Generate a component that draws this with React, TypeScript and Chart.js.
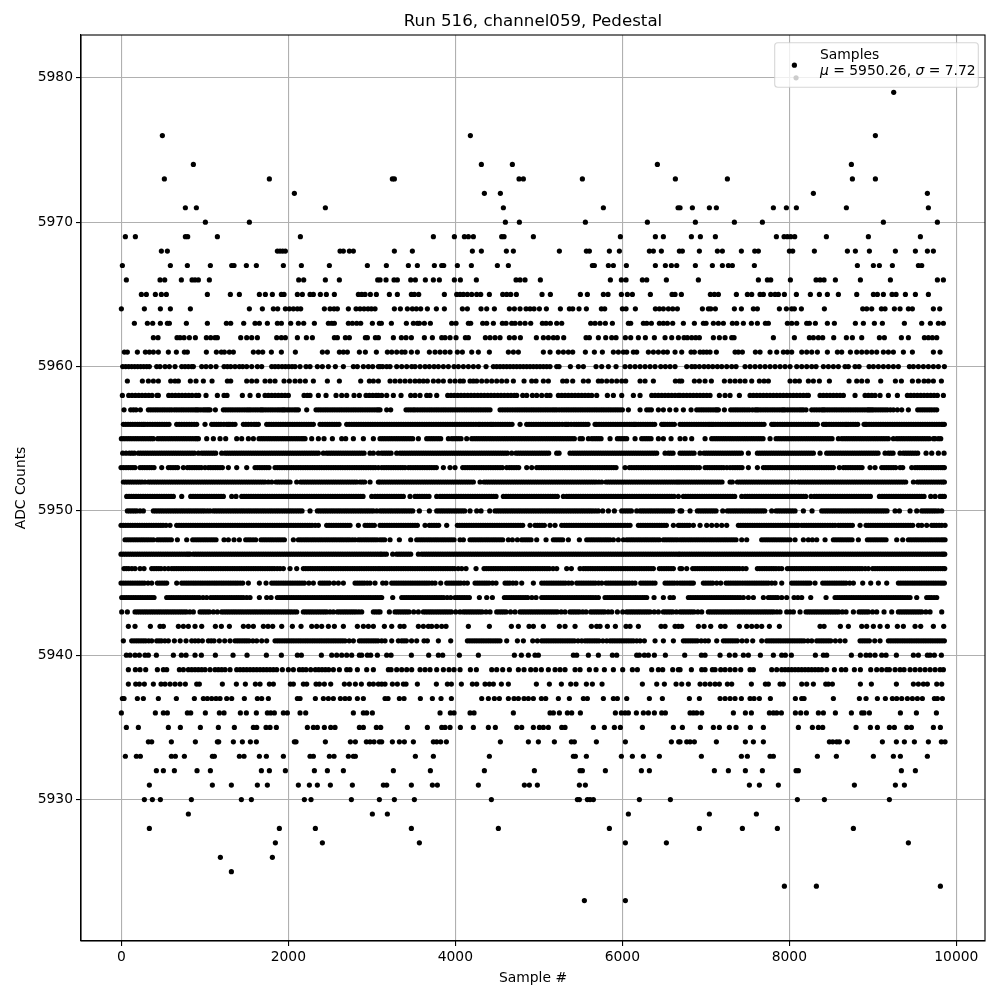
import React, { useEffect, useRef } from "react";
import { Chart, registerables } from "chart.js";

Chart.register(...registerables);

const TITLE = "Run 516, channel059, Pedestal";
const X_LABEL = "Sample #";
const Y_LABEL = "ADC Counts";
const LEGEND_NAME = "Samples";
const xTicks = [0, 2000, 4000, 6000, 8000, 10000];
const yTicks = [5930, 5940, 5950, 5960, 5970, 5980];

// Positions at 12 samples per pixel, one list per ADC level.
// The plot's real scale is 11.976 samples per pixel, with the zero 0.3px further right.
const READ_SCALE = 0.998;
const READ_SHIFT = -3.6;

const s5980 = [8100];
const s5979 = [9272];
const s5976 = [496, 4192, 9052];
const s5974 = [868, 4324, 4696, 6436, 8764];
const s5973 = [520, 1780, 3256, 3280, 4776, 4828, 5536, 6652, 7276, 8776, 9052];
const s5972 = [2080, 4360, 4552, 8308, 9676];
const s5971 = [772, 904, 2452, 4588, 5788, 6684, 6708, 6856, 7060, 7144, 7828, 7984, 8104, 8704, 9688];
const s5970 = [1012, 1540, 4612, 4780, 5572, 6316, 6892, 7360, 7696, 9148, 9796];
const s5969 = [52, 172, 772, 800, 1156, 2152, 3748, 4000, 4120, 4168, 4228, 4568, 4596, 4948, 5992, 6412, 6508, 6844, 6952, 7132, 7864, 7956, 7996, 8036, 8084, 8464, 8968, 9592];
const s5968 = [484, 556, 1876, 1908, 1940, 1972, 2628, 2668, 2740, 2788, 3280, 3496, 4216, 4324, 4624, 4708, 5260, 5584, 5620, 5860, 5980, 6340, 6388, 6484, 6700, 6736, 6940, 7156, 7216, 7444, 7604, 7648, 8020, 8060, 8320, 8716, 8812, 8980, 9292, 9532, 9676, 9748];
const s5967 = [16, 592, 796, 1072, 1328, 1356, 1504, 1624, 1948, 2164, 2500, 2956, 3184, 3448, 3556, 3760, 3848, 3872, 4036, 4204, 4516, 4648, 5656, 5680, 5848, 5908, 6064, 6412, 6532, 6604, 6668, 6892, 7096, 7216, 7288, 7336, 7600, 8836, 9028, 9100, 9256, 9568, 9608];
const s5966 = [64, 468, 524, 724, 852, 888, 928, 1060, 2132, 2192, 2452, 2620, 3080, 3108, 3180, 3276, 3316, 3476, 3532, 3652, 3748, 3820, 4000, 4072, 4264, 4740, 4788, 4848, 5032, 5872, 6004, 6060, 6256, 6308, 6544, 6928, 7648, 7756, 7796, 8032, 8340, 8388, 8436, 8572, 8872, 9232, 9796, 9868];
const s5965 = [244, 304, 412, 484, 544, 1036, 1312, 1420, 1660, 1732, 1816, 1924, 1956, 2116, 2176, 2268, 2308, 2392, 2464, 2560, 2848, 2888, 2928, 2992, 3064, 3220, 3316, 3484, 3520, 3572, 3880, 4028, 4068, 4108, 4156, 4208, 4268, 4316, 4420, 4580, 4628, 4676, 4744, 5052, 5152, 5512, 5596, 5788, 5844, 6004, 6076, 6136, 6352, 6612, 6648, 6724, 7072, 7120, 7168, 7384, 7516, 7568, 7668, 7708, 7796, 7848, 7888, 7960, 8104, 8272, 8380, 8476, 8608, 8828, 9028, 9076, 9148, 9252, 9300, 9412, 9532, 9688];
const s5964 = [4, 280, 472, 592, 832, 1540, 1696, 1828, 1880, 1972, 2020, 2068, 2116, 2156, 2440, 2508, 2556, 2596, 2728, 2820, 2868, 2916, 2964, 3004, 3048, 3280, 3352, 3436, 3496, 3544, 3596, 3676, 3784, 3880, 4096, 4156, 4320, 4388, 4480, 4660, 4720, 4788, 4860, 4908, 4956, 5020, 5104, 5272, 5380, 5420, 5496, 5584, 5764, 5804, 6016, 6060, 6172, 6412, 6460, 6508, 6568, 6620, 6676, 6976, 7048, 7076, 7132, 7360, 7444, 7588, 7636, 7900, 7984, 8048, 8080, 8164, 8440, 8900, 8948, 9008, 9124, 9168, 9280, 9348, 9448, 9496, 9748, 9824];
const s5963 = [160, 316, 380, 472, 556, 580, 784, 1036, 1264, 1316, 1472, 1608, 1660, 1756, 1876, 1924, 2036, 2128, 2192, 2320, 2488, 2528, 2560, 2728, 2776, 2828, 2876, 3016, 3100, 3124, 3244, 3424, 3508, 3556, 3580, 3640, 3712, 3968, 4020, 4168, 4196, 4340, 4388, 4468, 4576, 4620, 4688, 4728, 4788, 4848, 4916, 5056, 5100, 5152, 5228, 5288, 5636, 5688, 5748, 5812, 5896, 6088, 6116, 6268, 6308, 6364, 6460, 6508, 6556, 6620, 6748, 6880, 6988, 7020, 7108, 7168, 7228, 7336, 7388, 7468, 7564, 7636, 7732, 7768, 7996, 8048, 8108, 8228, 8260, 8332, 8476, 8560, 8812, 8908, 9040, 9136, 9400, 9608, 9712, 9808, 9868];
const s5962 = [388, 444, 672, 708, 756, 820, 892, 1024, 1076, 1128, 1156, 1436, 1508, 1568, 1636, 1868, 1924, 1972, 2116, 2224, 2296, 2560, 2596, 2692, 2740, 2932, 2956, 3052, 3088, 3268, 3364, 3420, 3484, 3640, 3736, 3848, 3888, 3948, 4020, 4132, 4168, 4372, 4428, 4488, 4548, 4660, 4720, 4792, 4984, 5068, 5128, 5188, 5236, 5312, 5580, 5620, 5728, 5816, 5888, 5940, 6052, 6116, 6208, 6292, 6400, 6528, 6608, 6688, 6756, 6796, 6848, 6896, 6940, 7108, 7180, 7248, 7328, 7356, 7828, 8080, 8260, 8308, 8368, 8420, 8552, 8704, 8776, 8888, 9100, 9160, 9364, 9448, 9640, 9688, 9736, 9788];
const s5961 = [40, 76, 196, 292, 340, 388, 448, 568, 664, 760, 796, 1024, 1144, 1204, 1240, 1300, 1348, 1588, 1648, 1700, 1804, 1924, 2092, 2416, 2476, 2620, 2668, 2716, 2860, 2932, 3064, 3196, 3248, 3308, 3368, 3408, 3484, 3556, 3700, 3768, 3828, 3888, 3948, 4036, 4096, 4208, 4288, 4420, 4648, 4708, 4768, 5068, 5148, 5248, 5308, 5368, 5420, 5572, 5680, 5776, 5908, 5968, 6028, 6068, 6148, 6188, 6328, 6388, 6448, 6508, 6556, 6648, 6728, 6840, 6880, 6948, 6988, 7028, 7068, 7144, 7368, 7408, 7456, 7612, 7668, 7788, 7868, 7948, 7996, 8048, 8168, 8228, 8288, 8356, 8476, 8596, 8648, 8752, 8828, 8888, 8948, 9008, 9068, 9148, 9208, 9268, 9388, 9496, 9748, 9828];
const s5960 = [20, 56, 92, 128, 164, 200, 236, 272, 308, 340, 428, 468, 528, 580, 648, 728, 768, 808, 848, 868, 968, 1020, 1076, 1140, 1236, 1276, 1316, 1368, 1420, 1460, 1508, 1568, 1636, 1688, 1808, 1848, 1888, 1932, 1972, 2012, 2052, 2088, 2148, 2220, 2268, 2356, 2416, 2488, 2572, 2668, 2788, 2836, 2908, 2968, 3020, 3088, 3108, 3140, 3188, 3228, 3308, 3368, 3428, 3488, 3528, 3588, 3648, 3700, 3756, 3808, 3868, 3928, 3996, 4048, 4108, 4168, 4228, 4288, 4380, 4468, 4508, 4548, 4588, 4628, 4668, 4708, 4748, 4788, 4828, 4868, 4908, 4948, 4988, 5028, 5068, 5108, 5148, 5228, 5256, 5392, 5488, 5548, 5700, 5768, 5848, 5940, 6048, 6108, 6168, 6228, 6288, 6348, 6408, 6476, 6532, 6588, 6648, 6788, 6848, 6888, 6940, 6996, 7048, 7100, 7156, 7208, 7268, 7328, 7380, 7488, 7548, 7608, 7668, 7728, 7788, 7848, 7908, 7968, 8028, 8108, 8168, 8228, 8288, 8340, 8428, 8488, 8548, 8608, 8688, 8728, 8808, 8856, 8976, 9028, 9088, 9148, 9208, 9268, 9328, 9460, 9508, 9568, 9628, 9688, 9748, 9808, 9880];
const s5959 = [76, 256, 328, 388, 448, 596, 648, 688, 832, 900, 988, 1092, 1276, 1316, 1508, 1568, 1628, 1728, 1788, 1848, 1956, 2020, 2088, 2148, 2212, 2308, 2476, 2620, 2876, 2980, 3028, 3088, 3228, 3288, 3348, 3408, 3468, 3528, 3580, 3628, 3676, 3748, 3808, 3868, 3948, 4008, 4068, 4108, 4188, 4228, 4268, 4328, 4388, 4448, 4508, 4568, 4628, 4708, 4836, 4928, 4980, 5068, 5128, 5300, 5348, 5420, 5548, 5608, 5728, 5768, 5828, 5888, 5948, 6008, 6056, 6228, 6288, 6388, 6652, 6700, 6728, 6880, 6940, 7008, 7084, 7240, 7308, 7368, 7428, 7488, 7568, 7660, 7716, 7768, 8028, 8088, 8140, 8248, 8308, 8380, 8500, 8736, 8828, 8888, 8956, 9116, 9292, 9364, 9496, 9568, 9636, 9688, 9748, 9844];
const s5958 = [16, 92, 132, 172, 212, 252, 292, 332, 372, 432, 448, 572, 612, 652, 692, 732, 772, 812, 852, 900, 932, 1020, 1156, 1236, 1272, 1456, 1548, 1648, 1728, 1768, 1808, 1848, 1888, 1928, 1968, 2008, 2196, 2236, 2268, 2368, 2460, 2580, 2648, 2708, 2796, 2860, 2940, 2980, 3020, 3060, 3088, 3128, 3188, 3268, 3360, 3476, 3528, 3588, 3668, 3708, 3788, 3920, 3960, 4000, 4040, 4080, 4120, 4160, 4200, 4240, 4280, 4320, 4360, 4400, 4440, 4480, 4520, 4560, 4600, 4640, 4680, 4720, 4748, 4820, 4868, 4936, 4988, 5048, 5108, 5148, 5248, 5288, 5328, 5368, 5408, 5448, 5488, 5528, 5568, 5608, 5648, 5708, 5836, 5908, 6008, 6148, 6228, 6368, 6408, 6448, 6488, 6528, 6568, 6608, 6648, 6688, 6708, 6748, 6788, 6828, 6868, 6908, 6948, 6988, 7028, 7068, 7180, 7248, 7308, 7420, 7548, 7588, 7628, 7668, 7708, 7748, 7788, 7828, 7868, 7908, 7948, 7988, 8028, 8068, 8108, 8148, 8188, 8228, 8248, 8388, 8428, 8468, 8508, 8548, 8588, 8628, 8668, 8808, 8928, 8968, 9008, 9048, 9108, 9208, 9316, 9436, 9476, 9516, 9556, 9596, 9636, 9676, 9716, 9756, 9796, 9868];
const s5957 = [36, 116, 148, 180, 232, 328, 356, 384, 412, 440, 468, 496, 524, 552, 580, 608, 640, 668, 696, 724, 752, 780, 808, 836, 862, 888, 908, 928, 956, 984, 1006, 1028, 1048, 1068, 1132, 1228, 1256, 1284, 1312, 1340, 1368, 1396, 1424, 1452, 1480, 1508, 1532, 1556, 1584, 1612, 1640, 1668, 1688, 1708, 1736, 1764, 1792, 1820, 1848, 1876, 1902, 1928, 1948, 1968, 1996, 2024, 2052, 2080, 2104, 2128, 2228, 2340, 2368, 2396, 2424, 2452, 2480, 2508, 2536, 2564, 2592, 2620, 2648, 2676, 2704, 2732, 2760, 2788, 2816, 2844, 2872, 2900, 2928, 2956, 2984, 3012, 3040, 3068, 3088, 3108, 3188, 3236, 3420, 3448, 3476, 3504, 3528, 3558, 3588, 3616, 3644, 3672, 3700, 3728, 3756, 3784, 3812, 3840, 3868, 3896, 3924, 3952, 3980, 4008, 4036, 4064, 4092, 4120, 4148, 4176, 4204, 4232, 4260, 4288, 4316, 4344, 4372, 4400, 4428, 4548, 4578, 4608, 4638, 4668, 4698, 4728, 4756, 4784, 4812, 4840, 4868, 4896, 4924, 4952, 4980, 5008, 5036, 5064, 5092, 5120, 5148, 5176, 5202, 5228, 5258, 5288, 5316, 5344, 5372, 5400, 5428, 5456, 5484, 5512, 5540, 5568, 5596, 5624, 5652, 5680, 5708, 5736, 5764, 5792, 5820, 5848, 5876, 5904, 5932, 5960, 5988, 6016, 6088, 6228, 6308, 6336, 6364, 6448, 6508, 6584, 6660, 6748, 6840, 6908, 6936, 6964, 6992, 7020, 7048, 7076, 7104, 7132, 7150, 7168, 7240, 7316, 7344, 7372, 7400, 7428, 7456, 7484, 7512, 7540, 7576, 7608, 7628, 7648, 7676, 7704, 7732, 7760, 7788, 7816, 7844, 7872, 7900, 7928, 7948, 7968, 7998, 8028, 8056, 8084, 8112, 8140, 8164, 8188, 8220, 8288, 8318, 8348, 8378, 8408, 8428, 8448, 8476, 8504, 8532, 8560, 8588, 8616, 8644, 8672, 8700, 8728, 8756, 8784, 8812, 8840, 8868, 8896, 8924, 8952, 8970, 8988, 9008, 9028, 9056, 9084, 9112, 9140, 9168, 9196, 9232, 9268, 9316, 9368, 9448, 9560, 9588, 9616, 9644, 9672, 9700, 9728, 9758, 9788];
const s5956 = [28, 56, 84, 112, 140, 168, 196, 222, 248, 268, 288, 318, 348, 378, 408, 436, 464, 492, 520, 548, 576, 668, 698, 728, 758, 788, 818, 848, 878, 908, 1008, 1088, 1116, 1144, 1172, 1200, 1234, 1268, 1288, 1308, 1338, 1368, 1468, 1498, 1528, 1562, 1596, 1622, 1648, 1748, 1776, 1804, 1832, 1860, 1888, 1916, 1944, 1972, 2000, 2028, 2056, 2084, 2112, 2140, 2168, 2196, 2224, 2252, 2280, 2308, 2388, 2418, 2448, 2476, 2504, 2532, 2560, 2588, 2616, 2708, 2738, 2768, 2796, 2824, 2852, 2880, 2908, 2936, 2964, 2992, 3020, 3048, 3078, 3108, 3136, 3164, 3192, 3220, 3248, 3276, 3304, 3332, 3360, 3388, 3416, 3444, 3472, 3500, 3528, 3556, 3584, 3612, 3640, 3668, 3696, 3724, 3752, 3780, 3808, 3836, 3864, 3892, 3920, 3948, 3976, 4004, 4032, 4060, 4088, 4116, 4144, 4172, 4200, 4228, 4258, 4288, 4308, 4338, 4368, 4398, 4428, 4448, 4468, 4496, 4524, 4552, 4580, 4608, 4636, 4664, 4692, 4788, 4868, 4896, 4924, 4952, 4980, 5008, 5036, 5064, 5092, 5120, 5148, 5176, 5204, 5232, 5260, 5294, 5328, 5348, 5368, 5402, 5436, 5464, 5492, 5520, 5548, 5576, 5604, 5688, 5708, 5736, 5764, 5792, 5820, 5848, 5876, 5904, 5932, 5960, 5988, 6016, 6044, 6072, 6100, 6124, 6148, 6164, 6180, 6208, 6236, 6264, 6292, 6320, 6348, 6376, 6404, 6488, 6508, 6528, 6556, 6584, 6612, 6640, 6708, 6736, 6764, 6792, 6820, 6848, 6876, 6904, 6932, 6960, 6988, 7016, 7044, 7066, 7088, 7108, 7136, 7164, 7192, 7220, 7248, 7276, 7302, 7328, 7354, 7380, 7408, 7436, 7464, 7492, 7520, 7548, 7576, 7604, 7632, 7660, 7688, 7716, 7808, 7828, 7848, 7878, 7908, 7936, 7964, 7992, 8020, 8048, 8076, 8104, 8132, 8160, 8188, 8216, 8244, 8272, 8300, 8328, 8356, 8428, 8448, 8468, 8496, 8524, 8552, 8580, 8608, 8636, 8662, 8688, 8708, 8728, 8756, 8784, 8812, 8840, 8916, 8932, 8948, 8976, 9004, 9032, 9060, 9088, 9116, 9144, 9172, 9200, 9228, 9256, 9284, 9312, 9340, 9368, 9396, 9424, 9452, 9480, 9508, 9536, 9564, 9592, 9620, 9648, 9676, 9704, 9732, 9760, 9788, 9816, 9844, 9862, 9880];
const s5955 = [4, 32, 60, 88, 116, 144, 172, 200, 228, 256, 284, 312, 340, 364, 388, 440, 468, 496, 524, 552, 580, 608, 636, 664, 692, 720, 748, 776, 804, 832, 860, 888, 908, 928, 1028, 1108, 1188, 1256, 1388, 1448, 1528, 1588, 1656, 1684, 1712, 1740, 1768, 1796, 1824, 1852, 1880, 1908, 1936, 1964, 1992, 2020, 2048, 2076, 2104, 2132, 2160, 2184, 2208, 2288, 2368, 2436, 2536, 2648, 2696, 2788, 2908, 3028, 3108, 3136, 3164, 3192, 3220, 3248, 3276, 3304, 3332, 3360, 3388, 3416, 3444, 3472, 3500, 3568, 3668, 3696, 3724, 3752, 3780, 3808, 3836, 3928, 3968, 3996, 4024, 4052, 4080, 4148, 4208, 4236, 4264, 4292, 4320, 4348, 4376, 4404, 4432, 4460, 4488, 4516, 4544, 4572, 4600, 4628, 4656, 4684, 4712, 4740, 4768, 4796, 4824, 4852, 4880, 4908, 4936, 4964, 4992, 5020, 5048, 5076, 5104, 5132, 5160, 5188, 5216, 5244, 5272, 5300, 5328, 5356, 5384, 5412, 5440, 5508, 5536, 5608, 5648, 5676, 5704, 5732, 5760, 5868, 5956, 5984, 6012, 6040, 6068, 6168, 6248, 6276, 6304, 6332, 6360, 6448, 6508, 6600, 6708, 6768, 6848, 7008, 7088, 7116, 7144, 7172, 7200, 7228, 7256, 7284, 7312, 7340, 7368, 7396, 7424, 7452, 7480, 7508, 7536, 7564, 7592, 7620, 7648, 7676, 7704, 7788, 7860, 7888, 7916, 7944, 7972, 8000, 8028, 8056, 8084, 8112, 8140, 8168, 8196, 8224, 8252, 8280, 8308, 8336, 8364, 8392, 8420, 8448, 8476, 8504, 8532, 8608, 8648, 8676, 8704, 8732, 8760, 8788, 8816, 8844, 8872, 8900, 8928, 8956, 8984, 9012, 9040, 9068, 9096, 9124, 9152, 9180, 9208, 9268, 9308, 9336, 9364, 9392, 9420, 9448, 9476, 9504, 9532, 9560, 9588, 9616, 9644, 9672, 9700, 9748, 9768, 9808, 9836];
const s5954 = [20, 60, 100, 130, 160, 208, 236, 264, 292, 320, 348, 376, 404, 432, 460, 488, 516, 544, 572, 600, 628, 656, 684, 712, 740, 768, 796, 824, 852, 880, 928, 968, 996, 1024, 1052, 1080, 1108, 1136, 1208, 1248, 1276, 1304, 1332, 1360, 1388, 1416, 1444, 1472, 1500, 1528, 1556, 1584, 1612, 1640, 1668, 1696, 1724, 1752, 1780, 1808, 1836, 1864, 1892, 1920, 1948, 1976, 2004, 2032, 2060, 2088, 2116, 2144, 2172, 2200, 2228, 2256, 2284, 2312, 2340, 2368, 2428, 2468, 2496, 2524, 2552, 2580, 2608, 2636, 2664, 2692, 2720, 2748, 2776, 2804, 2832, 2860, 2888, 2916, 2988, 3028, 3088, 3128, 3156, 3184, 3212, 3240, 3308, 3348, 3376, 3404, 3432, 3460, 3488, 3516, 3544, 3572, 3600, 3628, 3656, 3684, 3712, 3740, 3768, 3796, 3824, 3852, 3880, 3908, 3936, 3964, 3992, 4020, 4048, 4076, 4104, 4132, 4160, 4188, 4216, 4244, 4272, 4300, 4328, 4356, 4384, 4412, 4440, 4468, 4496, 4524, 4552, 4580, 4608, 4636, 4688, 4740, 4768, 4796, 4824, 4852, 4880, 4908, 4936, 4964, 4992, 5020, 5048, 5076, 5104, 5132, 5228, 5256, 5388, 5420, 5448, 5476, 5504, 5532, 5560, 5588, 5616, 5644, 5672, 5700, 5728, 5756, 5784, 5812, 5840, 5868, 5896, 5924, 5952, 5980, 6008, 6036, 6064, 6092, 6120, 6148, 6176, 6204, 6232, 6260, 6288, 6316, 6344, 6372, 6400, 6428, 6528, 6568, 6596, 6624, 6708, 6736, 6764, 6792, 6820, 6848, 6876, 6948, 6996, 7024, 7052, 7080, 7108, 7136, 7164, 7192, 7220, 7248, 7276, 7304, 7332, 7360, 7388, 7416, 7444, 7528, 7636, 7664, 7692, 7720, 7748, 7776, 7804, 7832, 7860, 7888, 7916, 7944, 7972, 8000, 8028, 8056, 8084, 8112, 8140, 8168, 8196, 8224, 8252, 8280, 8308, 8388, 8468, 8496, 8524, 8552, 8580, 8608, 8636, 8664, 8692, 8720, 8748, 8776, 8804, 8832, 8860, 8888, 8916, 8944, 8972, 9000, 9028, 9056, 9084, 9168, 9208, 9236, 9264, 9348, 9388, 9416, 9444, 9472, 9500, 9530, 9560, 9660, 9728, 9808, 9876];
const s5953 = [0, 30, 60, 88, 116, 142, 168, 228, 256, 284, 312, 340, 368, 396, 488, 568, 596, 624, 652, 680, 748, 796, 824, 852, 880, 908, 936, 964, 1008, 1048, 1076, 1104, 1132, 1160, 1188, 1216, 1288, 1388, 1508, 1608, 1636, 1664, 1692, 1720, 1748, 1776, 1848, 1876, 1904, 1932, 1960, 1988, 2016, 2044, 2072, 2100, 2128, 2156, 2184, 2212, 2240, 2268, 2296, 2324, 2352, 2380, 2408, 2436, 2464, 2492, 2520, 2548, 2576, 2604, 2632, 2660, 2688, 2716, 2744, 2772, 2800, 2828, 2856, 2884, 2912, 2940, 2968, 2996, 3024, 3052, 3088, 3128, 3156, 3184, 3212, 3240, 3268, 3296, 3324, 3352, 3380, 3408, 3448, 3476, 3504, 3532, 3560, 3588, 3616, 3644, 3672, 3700, 3728, 3756, 3784, 3868, 3948, 4008, 4100, 4128, 4156, 4184, 4212, 4240, 4268, 4296, 4324, 4352, 4380, 4408, 4436, 4464, 4492, 4520, 4548, 4576, 4628, 4660, 4688, 4716, 4744, 4772, 4868, 4928, 4988, 5016, 5044, 5072, 5100, 5128, 5156, 5184, 5212, 5240, 5268, 5296, 5324, 5352, 5380, 5408, 5436, 5464, 5492, 5520, 5548, 5576, 5604, 5632, 5660, 5688, 5716, 5744, 5772, 5800, 5828, 5856, 5884, 5912, 5940, 6048, 6100, 6128, 6156, 6184, 6212, 6240, 6268, 6296, 6324, 6352, 6380, 6408, 6436, 6464, 6492, 6520, 6548, 6576, 6604, 6632, 6660, 6684, 6708, 6736, 6764, 6792, 6820, 6848, 6876, 6908, 6940, 7008, 7036, 7064, 7092, 7120, 7148, 7176, 7204, 7232, 7270, 7308, 7340, 7368, 7396, 7424, 7452, 7528, 7636, 7708, 7736, 7764, 7792, 7820, 7848, 7876, 7904, 7932, 7960, 7988, 8016, 8044, 8072, 8100, 8128, 8156, 8184, 8212, 8240, 8268, 8296, 8324, 8352, 8380, 8408, 8436, 8464, 8492, 8520, 8548, 8620, 8668, 8696, 8724, 8752, 8780, 8808, 8836, 8864, 8892, 8988, 9048, 9128, 9156, 9184, 9212, 9240, 9268, 9296, 9348, 9380, 9488, 9528, 9556, 9584, 9612, 9640, 9668, 9696, 9724, 9752, 9780, 9808, 9836, 9860, 9880];
const s5952 = [28, 56, 84, 112, 140, 168, 196, 224, 252, 288, 328, 356, 384, 412, 440, 468, 496, 524, 552, 580, 608, 636, 664, 692, 720, 748, 776, 804, 832, 860, 888, 916, 944, 972, 1000, 1028, 1056, 1084, 1112, 1140, 1168, 1196, 1224, 1252, 1280, 1308, 1336, 1364, 1392, 1420, 1448, 1476, 1504, 1532, 1560, 1588, 1616, 1644, 1672, 1700, 1728, 1768, 1808, 1860, 1888, 1916, 1944, 1972, 2000, 2028, 2108, 2156, 2184, 2212, 2240, 2268, 2296, 2324, 2352, 2380, 2408, 2436, 2464, 2492, 2520, 2548, 2576, 2604, 2632, 2660, 2688, 2716, 2744, 2772, 2800, 2828, 2868, 2896, 2924, 2988, 3088, 3108, 3136, 3164, 3192, 3220, 3248, 3276, 3304, 3332, 3360, 3388, 3416, 3444, 3472, 3500, 3528, 3556, 3584, 3612, 3640, 3668, 3696, 3724, 3752, 3780, 3808, 3836, 3864, 3892, 3920, 3948, 3976, 4004, 4032, 4060, 4088, 4116, 4144, 4172, 4200, 4228, 4308, 4356, 4384, 4412, 4440, 4468, 4496, 4524, 4552, 4580, 4608, 4636, 4664, 4692, 4720, 4748, 4776, 4804, 4832, 4860, 4888, 4916, 4944, 4972, 5000, 5028, 5056, 5084, 5112, 5140, 5168, 5196, 5224, 5252, 5280, 5308, 5336, 5364, 5392, 5420, 5448, 5476, 5504, 5532, 5560, 5588, 5616, 5644, 5672, 5700, 5734, 5768, 5820, 5848, 5876, 5904, 5932, 5960, 5988, 6016, 6044, 6072, 6100, 6128, 6156, 6184, 6212, 6240, 6268, 6296, 6324, 6352, 6380, 6408, 6436, 6464, 6492, 6520, 6548, 6576, 6604, 6632, 6660, 6684, 6708, 6736, 6764, 6792, 6820, 6848, 6876, 6904, 6932, 6960, 6988, 7016, 7044, 7072, 7100, 7128, 7156, 7184, 7212, 7308, 7336, 7396, 7424, 7452, 7480, 7508, 7536, 7564, 7592, 7620, 7648, 7676, 7704, 7732, 7760, 7788, 7816, 7844, 7872, 7900, 7928, 7956, 7984, 8012, 8050, 8088, 8128, 8156, 8184, 8212, 8240, 8268, 8296, 8324, 8352, 8380, 8408, 8436, 8464, 8492, 8520, 8548, 8576, 8604, 8632, 8660, 8688, 8716, 8744, 8772, 8800, 8828, 8856, 8884, 8912, 8940, 8968, 8996, 9024, 9052, 9080, 9108, 9136, 9164, 9192, 9220, 9248, 9276, 9304, 9332, 9360, 9388, 9416, 9508, 9556, 9584, 9612, 9640, 9668, 9696, 9724, 9752, 9780, 9808, 9836, 9860, 9880];
const s5951 = [68, 96, 124, 152, 180, 208, 236, 264, 292, 320, 348, 376, 404, 432, 460, 488, 516, 544, 572, 600, 628, 728, 836, 864, 892, 920, 948, 976, 1004, 1032, 1060, 1088, 1116, 1144, 1172, 1200, 1228, 1328, 1380, 1448, 1476, 1504, 1532, 1560, 1588, 1616, 1644, 1672, 1700, 1728, 1756, 1784, 1812, 1840, 1868, 1896, 1924, 1952, 1980, 2008, 2036, 2064, 2092, 2120, 2148, 2176, 2204, 2232, 2260, 2288, 2316, 2344, 2372, 2400, 2428, 2456, 2484, 2512, 2540, 2568, 2596, 2624, 2652, 2680, 2708, 2736, 2764, 2792, 2820, 2848, 2876, 2904, 3008, 3048, 3078, 3108, 3136, 3164, 3192, 3220, 3248, 3276, 3304, 3332, 3360, 3388, 3468, 3528, 3556, 3584, 3612, 3640, 3668, 3696, 3788, 3828, 3856, 3884, 3912, 3940, 3968, 3996, 4024, 4052, 4080, 4108, 4136, 4164, 4192, 4220, 4248, 4276, 4304, 4332, 4360, 4388, 4416, 4444, 4472, 4500, 4588, 4620, 4648, 4676, 4704, 4732, 4760, 4788, 4816, 4844, 4872, 4900, 4928, 4956, 4984, 5012, 5040, 5068, 5096, 5124, 5152, 5180, 5208, 5236, 5308, 5348, 5376, 5404, 5432, 5460, 5488, 5516, 5544, 5572, 5600, 5628, 5656, 5684, 5712, 5740, 5768, 5796, 5824, 5852, 5880, 5908, 5936, 5964, 5992, 6020, 6048, 6076, 6104, 6132, 6160, 6188, 6216, 6244, 6272, 6300, 6328, 6356, 6384, 6412, 6440, 6468, 6496, 6524, 6552, 6580, 6608, 6636, 6688, 6748, 6776, 6804, 6832, 6860, 6888, 6916, 6944, 6972, 7000, 7028, 7056, 7084, 7112, 7140, 7168, 7196, 7224, 7252, 7280, 7308, 7336, 7364, 7448, 7488, 7516, 7544, 7572, 7600, 7628, 7656, 7684, 7712, 7740, 7768, 7796, 7824, 7852, 7880, 7908, 7936, 7964, 7992, 8020, 8048, 8076, 8104, 8132, 8160, 8188, 8216, 8280, 8320, 8348, 8376, 8404, 8432, 8460, 8488, 8516, 8544, 8572, 8600, 8628, 8656, 8684, 8712, 8740, 8768, 8796, 8824, 8852, 8880, 8908, 8936, 8964, 8992, 9100, 9132, 9160, 9188, 9216, 9244, 9272, 9300, 9328, 9356, 9384, 9412, 9440, 9468, 9496, 9524, 9552, 9580, 9608, 9636, 9716, 9768, 9828, 9854, 9880];
const s5950 = [76, 104, 132, 160, 188, 228, 268, 388, 416, 444, 472, 500, 528, 556, 584, 612, 640, 668, 696, 724, 752, 780, 808, 836, 864, 892, 920, 948, 976, 1004, 1036, 1068, 1108, 1136, 1164, 1192, 1220, 1248, 1276, 1304, 1332, 1360, 1388, 1416, 1444, 1472, 1500, 1528, 1556, 1584, 1612, 1640, 1668, 1696, 1724, 1752, 1780, 1808, 1836, 1864, 1892, 1920, 1948, 1976, 2004, 2032, 2060, 2088, 2116, 2144, 2172, 2268, 2356, 2384, 2412, 2440, 2468, 2496, 2524, 2552, 2580, 2608, 2636, 2664, 2692, 2720, 2748, 2776, 2804, 2832, 2860, 2888, 2916, 2944, 2972, 3000, 3028, 3068, 3108, 3136, 3164, 3192, 3220, 3248, 3276, 3304, 3332, 3360, 3388, 3416, 3444, 3472, 3500, 3580, 3700, 3788, 3816, 3844, 3872, 3900, 3928, 3956, 3984, 4012, 4040, 4068, 4096, 4124, 4188, 4268, 4320, 4424, 4488, 4516, 4544, 4572, 4600, 4628, 4656, 4684, 4712, 4740, 4768, 4796, 4824, 4852, 4880, 4908, 4936, 4964, 4992, 5020, 5048, 5076, 5104, 5132, 5160, 5188, 5216, 5244, 5272, 5300, 5328, 5356, 5384, 5412, 5440, 5468, 5496, 5524, 5552, 5580, 5608, 5636, 5664, 5696, 5728, 5780, 5848, 5920, 6008, 6038, 6068, 6096, 6124, 6188, 6228, 6256, 6284, 6312, 6340, 6368, 6396, 6424, 6452, 6480, 6508, 6536, 6564, 6592, 6620, 6708, 6728, 6828, 6916, 6944, 6972, 7000, 7028, 7056, 7084, 7112, 7140, 7220, 7276, 7304, 7332, 7360, 7388, 7416, 7444, 7472, 7500, 7528, 7556, 7584, 7612, 7640, 7668, 7696, 7724, 7808, 7860, 7888, 7916, 7944, 7972, 8000, 8028, 8058, 8088, 8188, 8292, 8408, 8436, 8464, 8492, 8520, 8548, 8576, 8604, 8632, 8660, 8688, 8716, 8744, 8772, 8800, 8828, 8856, 8884, 8912, 8940, 8968, 8996, 9024, 9052, 9080, 9108, 9136, 9164, 9192, 9288, 9340, 9468, 9548, 9608, 9636, 9664, 9692, 9720, 9748, 9776, 9808, 9848];
const s5949 = [0, 28, 56, 84, 112, 140, 168, 196, 224, 252, 280, 308, 336, 364, 392, 420, 448, 476, 504, 540, 588, 668, 696, 724, 752, 780, 808, 836, 864, 892, 920, 948, 976, 1004, 1032, 1060, 1088, 1116, 1144, 1172, 1200, 1228, 1256, 1284, 1312, 1340, 1368, 1396, 1424, 1452, 1480, 1508, 1536, 1564, 1592, 1620, 1648, 1676, 1704, 1732, 1760, 1788, 1816, 1844, 1872, 1900, 1928, 1956, 1984, 2012, 2040, 2068, 2096, 2124, 2152, 2180, 2208, 2236, 2264, 2292, 2330, 2368, 2468, 2496, 2524, 2552, 2580, 2608, 2636, 2664, 2692, 2720, 2748, 2848, 2928, 2956, 2984, 3012, 3040, 3108, 3136, 3164, 3192, 3220, 3248, 3276, 3304, 3332, 3360, 3388, 3416, 3444, 3472, 3500, 3528, 3556, 3648, 3700, 3728, 3756, 3784, 3812, 3908, 4036, 4064, 4092, 4120, 4148, 4176, 4204, 4232, 4260, 4288, 4316, 4344, 4372, 4400, 4428, 4456, 4484, 4512, 4540, 4568, 4596, 4624, 4652, 4680, 4708, 4736, 4764, 4792, 4820, 4908, 4968, 4996, 5024, 5052, 5080, 5148, 5208, 5288, 5320, 5348, 5376, 5404, 5432, 5460, 5488, 5516, 5544, 5572, 5600, 5628, 5656, 5684, 5712, 5740, 5768, 5796, 5824, 5852, 5880, 5908, 5936, 5964, 5992, 6020, 6048, 6078, 6108, 6208, 6236, 6264, 6292, 6320, 6348, 6376, 6404, 6432, 6460, 6488, 6516, 6544, 6628, 6688, 6708, 6736, 6764, 6792, 6820, 6868, 6948, 7028, 7088, 7148, 7208, 7268, 7408, 7436, 7464, 7492, 7520, 7548, 7576, 7604, 7632, 7660, 7688, 7716, 7744, 7772, 7800, 7828, 7856, 7884, 7912, 7940, 7968, 7996, 8024, 8052, 8080, 8104, 8128, 8168, 8196, 8224, 8252, 8280, 8308, 8336, 8364, 8392, 8420, 8448, 8478, 8508, 8538, 8568, 8608, 8636, 8664, 8692, 8720, 8748, 8776, 8868, 8940, 8968, 8996, 9024, 9052, 9080, 9108, 9136, 9164, 9192, 9220, 9248, 9276, 9304, 9332, 9360, 9388, 9416, 9444, 9472, 9500, 9568, 9608, 9668, 9728, 9756, 9784, 9816, 9848, 9888];
const s5948 = [48, 76, 104, 132, 160, 188, 216, 244, 272, 300, 328, 358, 388, 436, 464, 492, 520, 548, 576, 604, 676, 788, 860, 888, 916, 944, 972, 1000, 1028, 1056, 1084, 1112, 1140, 1236, 1288, 1356, 1420, 1496, 1524, 1552, 1584, 1616, 1680, 1708, 1736, 1764, 1792, 1820, 1848, 1876, 1904, 1932, 1960, 2068, 2128, 2156, 2184, 2212, 2240, 2268, 2296, 2324, 2352, 2380, 2408, 2436, 2464, 2492, 2520, 2548, 2576, 2604, 2632, 2660, 2688, 2716, 2744, 2776, 2808, 2848, 2876, 2904, 2932, 2960, 2988, 3016, 3044, 3072, 3108, 3136, 3164, 3228, 3340, 3476, 3548, 3576, 3604, 3632, 3660, 3688, 3716, 3744, 3772, 3800, 3828, 3856, 3884, 3912, 3940, 3968, 3996, 4068, 4108, 4188, 4216, 4244, 4272, 4300, 4328, 4356, 4384, 4412, 4440, 4468, 4496, 4524, 4552, 4580, 4648, 4696, 4756, 4808, 4836, 4864, 4892, 4920, 4988, 5100, 5188, 5216, 5244, 5272, 5300, 5368, 5500, 5588, 5616, 5644, 5672, 5700, 5728, 5756, 5784, 5812, 5840, 5868, 5908, 5968, 6028, 6068, 6096, 6124, 6152, 6180, 6208, 6236, 6264, 6292, 6320, 6348, 6376, 6404, 6432, 6460, 6508, 6536, 6564, 6592, 6620, 6648, 6676, 6708, 6736, 6764, 6792, 6820, 6848, 6876, 6904, 6932, 6960, 6988, 7016, 7044, 7072, 7100, 7128, 7156, 7184, 7212, 7240, 7268, 7296, 7324, 7352, 7380, 7448, 7508, 7688, 7716, 7744, 7772, 7800, 7828, 7856, 7884, 7912, 7940, 7968, 7998, 8028, 8088, 8188, 8248, 8296, 8348, 8448, 8548, 8576, 8604, 8632, 8660, 8688, 8716, 8744, 8772, 8848, 8956, 8984, 9012, 9040, 9068, 9096, 9124, 9152, 9180, 9308, 9380, 9448, 9476, 9504, 9532, 9560, 9588, 9616, 9644, 9672, 9700, 9728, 9756, 9784, 9812, 9840, 9864, 9888];
const s5947 = [0, 28, 56, 84, 112, 140, 168, 196, 224, 252, 280, 308, 336, 364, 392, 420, 448, 476, 504, 532, 560, 588, 616, 644, 672, 700, 728, 756, 784, 806, 828, 868, 896, 924, 952, 980, 1008, 1036, 1064, 1092, 1120, 1148, 1176, 1204, 1232, 1260, 1288, 1316, 1344, 1372, 1400, 1428, 1456, 1484, 1512, 1540, 1568, 1596, 1624, 1652, 1680, 1708, 1736, 1764, 1792, 1820, 1848, 1876, 1904, 1932, 1960, 1988, 2016, 2044, 2072, 2100, 2128, 2156, 2184, 2212, 2240, 2268, 2296, 2324, 2352, 2380, 2408, 2436, 2464, 2492, 2520, 2548, 2576, 2604, 2632, 2660, 2688, 2716, 2744, 2772, 2800, 2828, 2856, 2884, 2912, 2940, 2968, 2996, 3024, 3052, 3080, 3108, 3128, 3156, 3184, 3260, 3308, 3336, 3364, 3392, 3420, 3448, 3476, 3568, 3608, 3636, 3664, 3692, 3720, 3748, 3776, 3804, 3832, 3860, 3888, 3916, 3944, 3972, 4000, 4028, 4056, 4084, 4112, 4140, 4168, 4196, 4224, 4252, 4280, 4308, 4336, 4364, 4392, 4420, 4448, 4476, 4504, 4532, 4560, 4588, 4616, 4644, 4672, 4700, 4728, 4756, 4784, 4812, 4840, 4868, 4896, 4924, 4952, 4980, 5008, 5036, 5064, 5092, 5120, 5148, 5176, 5204, 5232, 5260, 5288, 5316, 5344, 5372, 5400, 5428, 5456, 5484, 5512, 5540, 5568, 5596, 5624, 5652, 5680, 5708, 5736, 5764, 5792, 5820, 5848, 5876, 5904, 5932, 5960, 5988, 6016, 6044, 6072, 6100, 6128, 6156, 6184, 6212, 6240, 6268, 6296, 6324, 6352, 6380, 6408, 6436, 6464, 6492, 6520, 6548, 6576, 6604, 6632, 6660, 6688, 6708, 6736, 6764, 6792, 6820, 6848, 6876, 6904, 6932, 6960, 6988, 7016, 7044, 7072, 7100, 7128, 7156, 7184, 7212, 7240, 7268, 7296, 7324, 7352, 7380, 7408, 7436, 7464, 7492, 7520, 7548, 7576, 7604, 7632, 7660, 7688, 7716, 7744, 7772, 7800, 7828, 7856, 7884, 7912, 7940, 7968, 7996, 8024, 8052, 8080, 8108, 8136, 8164, 8192, 8220, 8248, 8276, 8304, 8332, 8360, 8388, 8416, 8444, 8472, 8500, 8528, 8556, 8584, 8612, 8640, 8668, 8696, 8724, 8752, 8780, 8808, 8836, 8864, 8892, 8920, 8948, 8976, 9004, 9032, 9060, 9088, 9116, 9144, 9172, 9200, 9228, 9256, 9284, 9312, 9340, 9368, 9396, 9424, 9452, 9480, 9508, 9536, 9564, 9592, 9620, 9648, 9676, 9704, 9732, 9760, 9788, 9816, 9844, 9864, 9884];
const s5946 = [36, 64, 92, 130, 168, 228, 276, 368, 396, 424, 452, 480, 524, 568, 608, 636, 664, 692, 720, 748, 776, 804, 832, 860, 888, 916, 944, 972, 1000, 1028, 1056, 1084, 1112, 1140, 1168, 1196, 1224, 1252, 1280, 1308, 1336, 1364, 1392, 1420, 1448, 1476, 1504, 1532, 1560, 1588, 1616, 1644, 1672, 1700, 1728, 1756, 1784, 1812, 1840, 1874, 1908, 1948, 2028, 2108, 2188, 2216, 2244, 2272, 2300, 2328, 2356, 2384, 2412, 2440, 2468, 2496, 2524, 2552, 2580, 2608, 2636, 2664, 2692, 2720, 2748, 2776, 2804, 2832, 2860, 2888, 2916, 2944, 2972, 3000, 3028, 3056, 3084, 3108, 3136, 3164, 3192, 3220, 3248, 3276, 3304, 3332, 3360, 3388, 3416, 3444, 3472, 3500, 3528, 3556, 3584, 3612, 3640, 3668, 3696, 3724, 3752, 3780, 3808, 3836, 3864, 3892, 3920, 3948, 3976, 4004, 4046, 4088, 4140, 4260, 4356, 4384, 4412, 4440, 4468, 4496, 4524, 4552, 4580, 4608, 4636, 4664, 4692, 4720, 4748, 4776, 4804, 4832, 4860, 4888, 4916, 4944, 4972, 5000, 5028, 5056, 5084, 5112, 5140, 5184, 5228, 5348, 5404, 5508, 5548, 5576, 5604, 5632, 5660, 5688, 5716, 5744, 5772, 5800, 5828, 5856, 5884, 5912, 5940, 5968, 5996, 6024, 6052, 6080, 6108, 6136, 6164, 6192, 6220, 6248, 6276, 6304, 6332, 6360, 6388, 6460, 6488, 6516, 6544, 6572, 6600, 6628, 6708, 6728, 6788, 6860, 6888, 6916, 6944, 6972, 7000, 7028, 7056, 7084, 7112, 7140, 7168, 7196, 7224, 7252, 7280, 7308, 7336, 7364, 7392, 7420, 7460, 7500, 7636, 7664, 7692, 7720, 7748, 7776, 7804, 7832, 7860, 7894, 7928, 7996, 8024, 8052, 8080, 8108, 8136, 8164, 8192, 8220, 8248, 8276, 8304, 8332, 8360, 8388, 8416, 8444, 8472, 8500, 8528, 8556, 8584, 8612, 8640, 8668, 8696, 8724, 8752, 8780, 8808, 8836, 8864, 8892, 8930, 8968, 9020, 9048, 9076, 9104, 9132, 9160, 9188, 9216, 9244, 9272, 9300, 9328, 9356, 9384, 9412, 9440, 9468, 9496, 9524, 9552, 9580, 9608, 9636, 9664, 9692, 9720, 9748, 9776, 9804, 9832, 9860, 9884];
const s5945 = [0, 28, 56, 84, 112, 140, 168, 196, 224, 252, 280, 324, 368, 436, 464, 492, 520, 548, 668, 728, 756, 784, 812, 840, 868, 896, 924, 952, 980, 1008, 1036, 1064, 1092, 1120, 1148, 1176, 1204, 1232, 1260, 1288, 1316, 1344, 1372, 1400, 1430, 1460, 1528, 1660, 1740, 1808, 1836, 1864, 1892, 1920, 1948, 1976, 2004, 2032, 2060, 2088, 2116, 2144, 2172, 2200, 2254, 2308, 2388, 2416, 2444, 2472, 2500, 2554, 2608, 2668, 2808, 2836, 2864, 2892, 2920, 2954, 2988, 3048, 3140, 3180, 3248, 3276, 3304, 3332, 3360, 3388, 3416, 3444, 3472, 3500, 3528, 3556, 3584, 3612, 3640, 3668, 3696, 3732, 3768, 3836, 3908, 3936, 3964, 3992, 4020, 4048, 4076, 4116, 4156, 4248, 4276, 4304, 4332, 4360, 4388, 4416, 4458, 4500, 4608, 4636, 4664, 4702, 4740, 4808, 4948, 5048, 5078, 5108, 5136, 5164, 5192, 5220, 5248, 5276, 5304, 5332, 5370, 5408, 5468, 5496, 5524, 5552, 5580, 5608, 5636, 5664, 5692, 5730, 5768, 5820, 5848, 5876, 5904, 5932, 5960, 5988, 6016, 6044, 6072, 6100, 6134, 6168, 6236, 6264, 6292, 6320, 6348, 6378, 6408, 6528, 6556, 6584, 6612, 6640, 6674, 6708, 6736, 6764, 6792, 6820, 6844, 6868, 6988, 7016, 7044, 7072, 7100, 7148, 7196, 7260, 7288, 7316, 7344, 7372, 7400, 7428, 7458, 7488, 7516, 7544, 7572, 7600, 7628, 7656, 7684, 7712, 7740, 7768, 7808, 7848, 7928, 8048, 8076, 8104, 8132, 8160, 8188, 8216, 8242, 8268, 8328, 8420, 8448, 8476, 8504, 8532, 8560, 8588, 8616, 8644, 8672, 8700, 8744, 8788, 8900, 8996, 9088, 9188, 9328, 9356, 9384, 9412, 9440, 9468, 9496, 9524, 9552, 9580, 9608, 9636, 9664, 9692, 9720, 9748, 9776, 9804, 9832, 9856, 9880];
const s5944 = [8, 36, 64, 92, 120, 148, 176, 204, 232, 260, 288, 316, 344, 370, 396, 548, 576, 604, 632, 660, 688, 716, 744, 772, 800, 828, 856, 884, 912, 940, 984, 1028, 1076, 1104, 1132, 1160, 1188, 1216, 1244, 1272, 1300, 1328, 1356, 1384, 1412, 1440, 1468, 1508, 1548, 1660, 1748, 1800, 1876, 1904, 1932, 1960, 1988, 2016, 2044, 2072, 2100, 2128, 2156, 2184, 2212, 2240, 2268, 2296, 2324, 2352, 2380, 2408, 2436, 2464, 2492, 2520, 2548, 2576, 2604, 2632, 2660, 2688, 2716, 2744, 2772, 2800, 2828, 2856, 2884, 2912, 2940, 2968, 2996, 3024, 3052, 3080, 3108, 3128, 3260, 3368, 3396, 3424, 3452, 3480, 3508, 3536, 3564, 3592, 3620, 3648, 3676, 3704, 3732, 3760, 3788, 3816, 3844, 3872, 3914, 3956, 4008, 4036, 4064, 4092, 4120, 4150, 4180, 4300, 4388, 4456, 4600, 4628, 4656, 4684, 4712, 4740, 4768, 4796, 4824, 4852, 4880, 4930, 4980, 5048, 5076, 5104, 5132, 5160, 5188, 5216, 5244, 5272, 5300, 5328, 5356, 5384, 5412, 5440, 5468, 5496, 5524, 5552, 5580, 5608, 5636, 5664, 5696, 5728, 5808, 5836, 5864, 5892, 5920, 5948, 5976, 6004, 6032, 6060, 6088, 6116, 6144, 6172, 6200, 6228, 6256, 6282, 6308, 6396, 6508, 6588, 6628, 6808, 6836, 6864, 6892, 6920, 6948, 6976, 7004, 7032, 7060, 7088, 7116, 7144, 7172, 7200, 7228, 7256, 7284, 7312, 7340, 7368, 7398, 7428, 7468, 7528, 7588, 7708, 7768, 7796, 7824, 7852, 7880, 7928, 7988, 8076, 8122, 8168, 8276, 8460, 8568, 8596, 8624, 8652, 8680, 8708, 8736, 8764, 8792, 8820, 8848, 8876, 8904, 8932, 8960, 8988, 9016, 9044, 9072, 9100, 9128, 9156, 9184, 9212, 9240, 9268, 9296, 9324, 9352, 9380, 9408, 9438, 9468, 9548, 9668, 9696, 9724, 9756, 9788];
const s5943 = [8, 76, 168, 196, 224, 252, 280, 308, 336, 364, 392, 420, 448, 476, 504, 532, 560, 588, 616, 644, 672, 700, 728, 756, 784, 826, 868, 948, 976, 1004, 1032, 1060, 1108, 1156, 1208, 1236, 1264, 1292, 1320, 1348, 1376, 1404, 1432, 1460, 1488, 1516, 1544, 1572, 1600, 1628, 1656, 1684, 1712, 1740, 1768, 1796, 1824, 1852, 1880, 1908, 1936, 1964, 1992, 2020, 2048, 2078, 2108, 2188, 2216, 2244, 2272, 2300, 2328, 2356, 2384, 2412, 2440, 2468, 2508, 2548, 2596, 2624, 2652, 2680, 2708, 2736, 2764, 2792, 2820, 2854, 2888, 3028, 3056, 3084, 3108, 3220, 3288, 3316, 3344, 3372, 3400, 3428, 3456, 3512, 3568, 3628, 3656, 3684, 3712, 3740, 3768, 3796, 3824, 3852, 3880, 3908, 3936, 3964, 4016, 4068, 4108, 4136, 4164, 4192, 4220, 4248, 4276, 4304, 4332, 4380, 4428, 4508, 4536, 4564, 4592, 4620, 4674, 4728, 4788, 4816, 4844, 4872, 4900, 4928, 4956, 4984, 5012, 5040, 5068, 5096, 5124, 5152, 5180, 5208, 5236, 5282, 5328, 5388, 5416, 5444, 5472, 5500, 5540, 5580, 5636, 5664, 5692, 5720, 5748, 5776, 5804, 5846, 5888, 5956, 6020, 6068, 6096, 6124, 6152, 6180, 6208, 6236, 6264, 6292, 6320, 6348, 6398, 6448, 6508, 6536, 6564, 6592, 6620, 6664, 6708, 6736, 6764, 6792, 6820, 6848, 6876, 6922, 6968, 7048, 7076, 7104, 7132, 7160, 7188, 7216, 7244, 7272, 7300, 7328, 7356, 7384, 7412, 7440, 7468, 7496, 7524, 7552, 7580, 7608, 7636, 7664, 7692, 7720, 7748, 7776, 7804, 7832, 7870, 7908, 7988, 8028, 8068, 8148, 8220, 8248, 8276, 8304, 8332, 8360, 8388, 8416, 8444, 8472, 8500, 8528, 8556, 8584, 8612, 8656, 8700, 8788, 8856, 8884, 8912, 8940, 8968, 9018, 9068, 9156, 9248, 9328, 9356, 9384, 9412, 9440, 9468, 9496, 9524, 9552, 9580, 9608, 9658, 9708, 9848];
const s5942 = [88, 168, 352, 468, 508, 688, 748, 808, 888, 968, 1132, 1204, 1300, 1468, 1528, 1588, 1708, 1764, 1820, 1928, 2056, 2160, 2288, 2348, 2408, 2488, 2560, 2668, 2836, 2908, 2968, 3028, 3160, 3248, 3348, 3396, 3568, 3628, 3688, 3728, 3788, 3848, 3900, 4168, 4420, 4684, 4768, 4896, 4948, 5068, 5260, 5328, 5448, 5644, 5708, 5748, 5836, 5932, 6060, 6108, 6208, 6480, 6528, 6648, 6688, 6728, 6928, 6996, 7076, 7196, 7248, 7420, 7508, 7568, 7628, 7688, 7780, 7900, 8388, 8436, 8632, 8728, 8888, 8948, 9028, 9108, 9196, 9316, 9388, 9528, 9596, 9748, 9872];
const s5941 = [28, 128, 156, 184, 212, 240, 268, 296, 332, 368, 428, 456, 484, 526, 568, 640, 710, 780, 848, 888, 928, 976, 1048, 1082, 1116, 1180, 1244, 1308, 1368, 1396, 1424, 1452, 1480, 1508, 1536, 1582, 1628, 1688, 1748, 1848, 1876, 1904, 1932, 1960, 1988, 2016, 2044, 2072, 2100, 2128, 2156, 2184, 2212, 2240, 2268, 2296, 2324, 2352, 2380, 2408, 2436, 2464, 2492, 2520, 2548, 2576, 2604, 2632, 2660, 2688, 2738, 2788, 2860, 2888, 2916, 2944, 2972, 3000, 3028, 3056, 3084, 3128, 3168, 3248, 3328, 3368, 3396, 3424, 3486, 3548, 3636, 3676, 3808, 3956, 4156, 4184, 4212, 4240, 4268, 4296, 4324, 4352, 4380, 4408, 4436, 4464, 4492, 4520, 4548, 4628, 4756, 4828, 4940, 4996, 5048, 5076, 5104, 5132, 5160, 5188, 5216, 5244, 5272, 5300, 5328, 5356, 5384, 5412, 5440, 5484, 5528, 5568, 5596, 5624, 5652, 5680, 5708, 5736, 5782, 5828, 5868, 5896, 5924, 5952, 5980, 6008, 6036, 6064, 6092, 6120, 6148, 6188, 6228, 6280, 6408, 6508, 6628, 6748, 6776, 6804, 6832, 6860, 6888, 6916, 6962, 7008, 7048, 7148, 7228, 7256, 7284, 7312, 7340, 7368, 7396, 7452, 7508, 7580, 7688, 7748, 7776, 7804, 7832, 7860, 7888, 7916, 7944, 7972, 8000, 8028, 8056, 8084, 8112, 8140, 8168, 8196, 8242, 8288, 8348, 8376, 8404, 8432, 8460, 8488, 8516, 8572, 8628, 8688, 8868, 8896, 8924, 8952, 8980, 9044, 9108, 9208, 9236, 9264, 9292, 9320, 9348, 9376, 9404, 9432, 9460, 9488, 9516, 9544, 9572, 9600, 9628, 9656, 9684, 9712, 9740, 9768, 9796, 9824, 9852, 9880];
const s5940 = [64, 108, 168, 220, 288, 328, 424, 628, 724, 780, 888, 964, 1132, 1344, 1512, 1744, 1924, 2116, 2164, 2404, 2528, 2588, 2648, 2708, 2768, 2860, 2888, 2956, 2996, 3076, 3188, 3240, 3484, 3692, 3808, 3860, 4060, 4288, 4720, 4804, 4888, 4968, 5008, 5428, 5468, 5608, 5728, 5896, 5948, 6188, 6220, 6280, 6328, 6400, 6532, 6764, 6964, 7008, 7188, 7300, 7368, 7468, 7528, 7672, 7828, 7928, 7972, 8044, 8332, 8428, 8468, 8764, 8872, 8940, 8988, 9048, 9128, 9180, 9304, 9508, 9568, 9676, 9708, 9760, 9844];
const s5939 = [88, 172, 228, 296, 436, 508, 548, 700, 748, 808, 848, 888, 928, 968, 1008, 1068, 1128, 1168, 1208, 1248, 1308, 1388, 1428, 1468, 1508, 1548, 1588, 1628, 1668, 1708, 1748, 1788, 1828, 1868, 1936, 2008, 2068, 2140, 2180, 2220, 2276, 2332, 2372, 2412, 2452, 2492, 2548, 2620, 2708, 2748, 2836, 2948, 3028, 3208, 3240, 3308, 3368, 3428, 3488, 3588, 3648, 3708, 3788, 3868, 3936, 3996, 4068, 4192, 4264, 4448, 4508, 4580, 4660, 4768, 4836, 4916, 4976, 5044, 5128, 5208, 5268, 5328, 5448, 5508, 5620, 5700, 5800, 5908, 6020, 6136, 6196, 6368, 6448, 6500, 6620, 6688, 6708, 6844, 6968, 7008, 7096, 7128, 7196, 7248, 7308, 7368, 7436, 7548, 7588, 7808, 7868, 7928, 7968, 8008, 8048, 8088, 8128, 8168, 8208, 8248, 8288, 8328, 8368, 8408, 8468, 8560, 8644, 8696, 8800, 8872, 8996, 9068, 9128, 9188, 9220, 9288, 9348, 9396, 9468, 9528, 9588, 9648, 9708, 9768, 9828, 9868];
const s5938 = [88, 176, 220, 280, 388, 480, 528, 588, 648, 708, 772, 908, 940, 1216, 1384, 1492, 1612, 1668, 1780, 1828, 2032, 2068, 2188, 2228, 2340, 2380, 2440, 2516, 2680, 2740, 2812, 2884, 2980, 3028, 3088, 3128, 3168, 3256, 3316, 3388, 3420, 3556, 3784, 3916, 3964, 4084, 4216, 4268, 4368, 4420, 4468, 4564, 4648, 4984, 5140, 5284, 5396, 5460, 5584, 5656, 5772, 6256, 6428, 6520, 6660, 6728, 6808, 6948, 7008, 7068, 7128, 7180, 7276, 7328, 7564, 7732, 7768, 7908, 7948, 8168, 8228, 8308, 8456, 8488, 8536, 8872, 9004, 9304, 9508, 9568, 9628, 9676, 9788, 9848];
const s5937 = [16, 36, 196, 268, 448, 664, 880, 988, 1036, 1088, 1140, 1188, 1268, 1328, 1480, 1636, 1688, 1768, 2116, 2148, 2332, 2428, 2488, 2548, 2632, 2688, 2740, 2836, 2908, 3168, 3204, 3340, 3396, 3592, 3736, 3840, 3964, 4328, 4408, 4480, 4540, 4648, 4716, 4768, 4836, 4888, 4948, 5044, 5096, 5248, 5380, 5548, 5596, 5788, 5908, 5956, 6068, 6340, 6496, 6820, 6940, 7188, 7248, 7308, 7368, 7444, 7548, 7596, 7660, 7792, 8092, 8168, 8196, 8548, 8860, 8940, 9076, 9172, 9256, 9308, 9368, 9436, 9496, 9556, 9616, 9760, 9796, 9856];
const s5936 = [4, 412, 508, 556, 796, 836, 1012, 1180, 1236, 1432, 1504, 1624, 1756, 1796, 1840, 1948, 1996, 2148, 2216, 2788, 2908, 2948, 3016, 3828, 3952, 3996, 4188, 4236, 4708, 5148, 5188, 5260, 5356, 5408, 5512, 5932, 6004, 6048, 6088, 6184, 6268, 6328, 6400, 6488, 6532, 6828, 6868, 6908, 6968, 7348, 7492, 7564, 7780, 7828, 7868, 7924, 8092, 8156, 8224, 8368, 8428, 8572, 8764, 8888, 8916, 8980, 9352, 9544, 9784];
const s5935 = [64, 208, 568, 712, 952, 1168, 1360, 1588, 1628, 1740, 1788, 1864, 2236, 2308, 2356, 2440, 2516, 2568, 2860, 2908, 3064, 3116, 3436, 3676, 3848, 3888, 3948, 4072, 4228, 4408, 4492, 4748, 4808, 4948, 5020, 5068, 5128, 5288, 5328, 5668, 5800, 5920, 5992, 6256, 6628, 6736, 6952, 7108, 7180, 7300, 7380, 7552, 7708, 8128, 8296, 8368, 8420, 8820, 8992, 9076, 9220, 9280, 9428, 9484, 9748, 9832];
const s5934 = [328, 368, 604, 892, 1156, 1172, 1348, 1456, 1552, 1624, 2080, 2100, 2452, 2752, 2812, 2944, 2988, 3036, 3100, 3128, 3256, 3340, 3400, 3508, 3748, 3788, 3836, 3904, 4552, 4888, 5008, 5200, 5404, 5440, 5704, 6052, 6604, 6692, 6708, 6788, 6828, 6880, 7144, 7492, 7588, 7708, 8500, 8540, 8588, 8620, 8716, 9136, 9304, 9400, 9520, 9688, 9844, 9888];
const s5933 = [52, 184, 232, 604, 652, 760, 1096, 1120, 1420, 1476, 1660, 1744, 1948, 2268, 2308, 2500, 2556, 2728, 2788, 2812, 3532, 3748, 4420, 5428, 5452, 5584, 6004, 6136, 6268, 6460, 6964, 7444, 7516, 7788, 7828, 8356, 8584, 9028, 9268, 9352, 9676];
const s5932 = [424, 508, 640, 912, 1072, 1684, 1780, 1972, 2320, 2476, 2668, 3268, 3712, 4360, 4960, 5508, 5536, 5812, 6244, 6340, 7120, 7288, 7492, 7696, 8100, 8128, 9364, 9532];
const s5931 = [340, 1096, 1324, 1636, 1756, 2128, 2260, 2356, 2512, 2776, 3148, 3188, 3484, 3736, 3796, 4288, 4840, 4900, 4996, 5500, 5572, 7540, 7660, 7888, 8800, 9292, 9400];
const s5930 = [280, 376, 472, 844, 1444, 1564, 2200, 2280, 2764, 3100, 3280, 3520, 4444, 5476, 5500, 5596, 5628, 5668, 6220, 6592, 8116, 8440, 9220];
const s5929 = [808, 3016, 3196, 6088, 7060, 7624];
const s5928 = [340, 1900, 2332, 3484, 4528, 5860, 6940, 7456, 7876, 8788];
const s5927 = [1852, 2416, 3580, 6052, 6544, 9448];
const s5926 = [1192, 1816];
const s5925 = [1324];
const s5924 = [7960, 8344, 9832];
const s5923 = [5560, 6052];

const levels: [number, number[]][] = [
  [5980, s5980], [5979, s5979], [5976, s5976], [5974, s5974], [5973, s5973], [5972, s5972], [5971, s5971], [5970, s5970],
  [5969, s5969], [5968, s5968], [5967, s5967], [5966, s5966], [5965, s5965], [5964, s5964], [5963, s5963], [5962, s5962],
  [5961, s5961], [5960, s5960], [5959, s5959], [5958, s5958], [5957, s5957], [5956, s5956], [5955, s5955], [5954, s5954],
  [5953, s5953], [5952, s5952], [5951, s5951], [5950, s5950], [5949, s5949], [5948, s5948], [5947, s5947], [5946, s5946],
  [5945, s5945], [5944, s5944], [5943, s5943], [5942, s5942], [5941, s5941], [5940, s5940], [5939, s5939], [5938, s5938],
  [5937, s5937], [5936, s5936], [5935, s5935], [5934, s5934], [5933, s5933], [5932, s5932], [5931, s5931], [5930, s5930],
  [5929, s5929], [5928, s5928], [5927, s5927], [5926, s5926], [5925, s5925], [5924, s5924], [5923, s5923],
];

const FONT = '"DejaVu Sans", sans-serif';
const TICK_SIZE = 13.89;

const framePlugin = {
  id: "frameAndLegend",
  afterDraw(chart: any) {
    const { ctx, chartArea: a } = chart;
    ctx.save();
    ctx.strokeStyle = "#000";
    ctx.lineWidth = 1.1;
    ctx.strokeRect(a.left, a.top, a.right - a.left, a.bottom - a.top);

    const bx = 774.7, by = 42.7, bw = 203.6, bh = 44.6, r = 3;
    ctx.beginPath();
    ctx.roundRect(bx, by, bw, bh, r);
    ctx.fillStyle = "rgba(255,255,255,0.8)";
    ctx.fill();
    ctx.strokeStyle = "rgba(204,204,204,0.8)";
    ctx.lineWidth = 1.1;
    ctx.stroke();

    ctx.beginPath();
    ctx.arc(794.4, 65.2, 2.6, 0, Math.PI * 2);
    ctx.fillStyle = "#000";
    ctx.fill();

    ctx.textBaseline = "alphabetic";
    ctx.textAlign = "left";
    ctx.fillStyle = "#000";
    ctx.font = `${TICK_SIZE}px ${FONT}`;
    ctx.fillText(LEGEND_NAME, 820, 59);
    const parts: [string, boolean][] = [["μ", true], [" = 5950.26, ", false], ["σ", true], [" = 7.72", false]];
    let x = 820;
    (ctx as any).wordSpacing = "-0.6px";
    for (const [text, italic] of parts) {
      ctx.font = `${italic ? "italic " : ""}${TICK_SIZE}px ${FONT}`;
      ctx.fillText(text, x, 75);
      x += ctx.measureText(text).width;
    }
    (ctx as any).wordSpacing = "0px";
    ctx.restore();
  },
};

export default function App() {
  const ref = useRef<HTMLCanvasElement | null>(null);
  useEffect(() => {
    if (!ref.current) return;
    const data: { x: number; y: number }[] = [];
    for (const [level, xs] of levels) for (const x of xs) data.push({ x: x * READ_SCALE + READ_SHIFT, y: level });
    const chart = new Chart(ref.current, {
      type: "scatter",
      data: {
        datasets: [
          {
            label: LEGEND_NAME,
            data,
            backgroundColor: "#000",
            borderColor: "#000",
            pointRadius: 2.6,
            pointBorderWidth: 0,
            pointHoverRadius: 2.6,
          },
        ],
      },
      options: {
        animation: false,
        responsive: false,
        devicePixelRatio: 1,
        layout: { padding: { top: 0, right: 15, bottom: 0, left: 0 } },
        plugins: {
          legend: { display: false },
          tooltip: { enabled: false },
          title: {
            display: true,
            fullSize: false,
            text: TITLE,
            color: "#000",
            font: { family: FONT, size: 16.67, weight: "normal" },
            padding: { top: 12, bottom: 3 },
          },
        },
        scales: {
          x: {
            type: "linear",
            min: -483,
            max: 10343,
            afterBuildTicks: (s: any) => {
              s.ticks = xTicks.map((value) => ({ value }));
            },
            afterFit: (s: any) => {
              s.height = 59;
            },
            border: { color: "#000", width: 1.1 },
            grid: { color: "#b0b0b0", lineWidth: 1.1, tickColor: "#000", tickLength: 5, tickWidth: 1.1 },
            ticks: {
              color: "#000",
              font: { family: FONT, size: TICK_SIZE },
              padding: 3,
              maxRotation: 0,
              callback: (v: any) => String(v),
            },
            title: {
              display: true,
              text: X_LABEL,
              color: "#000",
              font: { family: FONT, size: TICK_SIZE },
              padding: { top: 4, bottom: 13 },
            },
          },
          y: {
            type: "linear",
            min: 5920.2,
            max: 5982.97,
            afterBuildTicks: (s: any) => {
              s.ticks = yTicks.map((value) => ({ value }));
            },
            afterFit: (s: any) => {
              s.width = 81;
            },
            border: { color: "#000", width: 1.1 },
            grid: { color: "#b0b0b0", lineWidth: 1.1, tickColor: "#000", tickLength: 5, tickWidth: 1.1 },
            ticks: {
              color: "#000",
              font: { family: FONT, size: TICK_SIZE },
              padding: 3,
              callback: (v: any) => String(v),
            },
            title: {
              display: true,
              text: Y_LABEL,
              color: "#000",
              font: { family: FONT, size: TICK_SIZE },
              padding: { top: 13, bottom: 0 },
            },
          },
        },
      },
      plugins: [framePlugin],
    } as any);
    return () => chart.destroy();
  }, []);
  return (
    <div style={{ position: "fixed", left: 0, top: 0, width: 1000, height: 1000, background: "#fff" }}>
      <canvas ref={ref} width={1000} height={1000} style={{ display: "block" }} />
    </div>
  );
}
